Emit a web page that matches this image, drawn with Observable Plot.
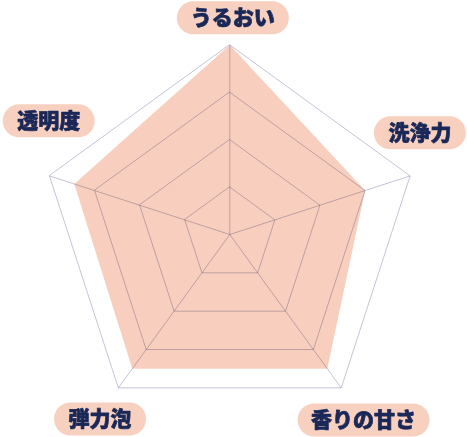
<!DOCTYPE html>
<html>
<head>
<meta charset="utf-8">
<script src="https://cdn.jsdelivr.net/npm/d3@7"></script>
<script src="https://cdn.jsdelivr.net/npm/@observablehq/plot@0.6"></script>
<style>
  html, body { margin: 0; padding: 0; background: #fff; }
  #chart { width: 467px; height: 437px; }
</style>
</head>
<body>
<div id="chart"></div>
<script>
// ---- data ----
const axes = ["うるおい", "洗浄力", "香りの甘さ", "弾力泡", "透明度"];
const values = [4, 3, 3.5, 3.5, 3.45];
const levels = [1, 2, 3, 4];
const maxValue = 4;

// ---- layout ----
const W = 467, H = 437;
const cx = 229.3, cy = 234, ppu = 47.4;   // centre (px) and px per unit
const labelR = 4.55;                      // label anchor radius (units)
const labelNudge = [[3, -1], [-15, -35], [7, 11], [-3, 10], [24, -47]]; // px
const fontSize = 21;
const pillH = 33;

const ang = i => Math.PI / 2 - i * 2 * Math.PI / axes.length;
const px = (i, r) => r * Math.cos(ang(i));
const py = (i, r) => r * Math.sin(ang(i));

const grid = levels.flatMap(l => axes.map((a, i) => ({level: l, x: px(i, l), y: py(i, l)})));
const spokes = axes.map((a, i) => ({x: px(i, maxValue), y: py(i, maxValue)}));
const poly = axes.map((a, i) => ({axis: a, x: px(i, values[i]), y: py(i, values[i])}));
const labels = axes.map((a, i) => {
  const w = a.length * 20 + 32;
  return {
    label: a,
    x: px(i, labelR) + labelNudge[i][0] / ppu,
    y: py(i, labelR) - labelNudge[i][1] / ppu,
    half: (w / 2 - pillH / 2) / ppu
  };
});

const lineColor = "#c4c4d8";
const textColor = "#1a2858";

const chart = Plot.plot({
  width: W,
  height: H,
  margin: 0,
  x: {domain: [-cx / ppu, (W - cx) / ppu], axis: null},
  y: {domain: [-(H - cy) / ppu, cy / ppu], axis: null},
  style: {fontFamily: "'Noto Sans CJK JP', 'Noto Sans', sans-serif", background: "#fff"},
  marks: [
    Plot.line(poly, {x: "x", y: "y", curve: "linear-closed", fill: "#f8cfbe", stroke: "none"}),
    Plot.line(grid, {x: "x", y: "y", z: "level", curve: "linear-closed", stroke: lineColor, strokeWidth: 1, mixBlendMode: "multiply"}),
    Plot.link(spokes, {x1: d => 0, y1: d => 0, x2: "x", y2: "y", stroke: lineColor, strokeWidth: 1, mixBlendMode: "multiply"}),
    Plot.link(labels, {x1: d => d.x - d.half, x2: d => d.x + d.half, y1: "y", y2: "y", stroke: "#f8d0c0", strokeWidth: pillH, strokeLinecap: "round"}),
    Plot.text(labels, {x: "x", y: "y", text: "label", fill: textColor, stroke: textColor, strokeWidth: 0.7, fontSize: fontSize, fontWeight: 900})
  ]
});
document.getElementById("chart").appendChild(chart);
</script>
</body>
</html>
